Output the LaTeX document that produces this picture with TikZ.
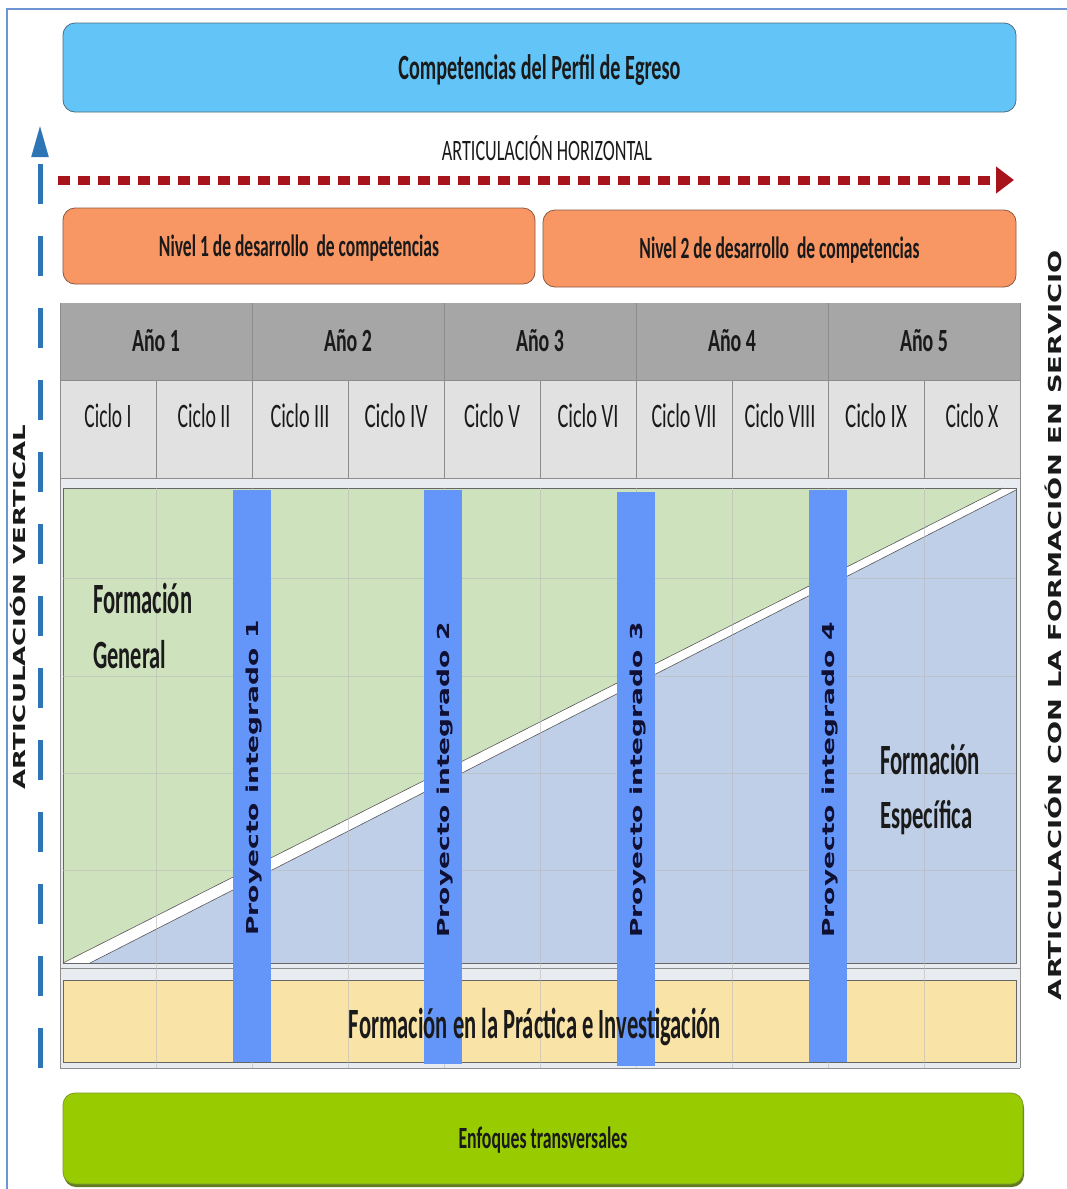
\documentclass[tikz,border=0pt]{standalone}
\usepackage{fontspec}
\setmainfont{Carlito}
\newfontfamily\vsans{DejaVu Sans}
\usepackage{graphicx}
\usetikzlibrary{arrows.meta}
\newcommand\fitt[3]{\resizebox{#1}{#2}{\raisebox{0pt}[\fontcharht\font`H][0pt]{#3}}}
\definecolor{frameblue}{HTML}{6D95D3}
\definecolor{topblue}{HTML}{63C5F7}
\definecolor{topborder}{HTML}{4F6D80}
\definecolor{orangefill}{HTML}{F89664}
\definecolor{orangeborder}{HTML}{8A5A40}
\definecolor{hdrgray}{HTML}{A6A6A6}
\definecolor{cycgray}{HTML}{E1E1E1}
\definecolor{bggray}{HTML}{E8ECF1}
\definecolor{gridgray}{HTML}{8C8C8C}
\definecolor{greenfill}{HTML}{CFE2BE}
\definecolor{bluefill}{HTML}{BFCFE8}
\definecolor{barblue}{HTML}{6495F9}
\definecolor{bandyellow}{HTML}{F9E3A7}
\definecolor{enfgreen}{HTML}{99CC00}
\definecolor{enfborder}{HTML}{7B9A2C}
\definecolor{arrowblue}{HTML}{2E75B6}
\definecolor{arrowred}{HTML}{A8141C}
\definecolor{txt}{HTML}{1A1A1A}
\definecolor{navytxt}{HTML}{101032}
\begin{document}
\begin{tikzpicture}[x=1pt,y=-1pt,
  rbox/.style={rounded corners=12pt, line width=0.8pt, inner sep=0pt, text=txt},
  lbl/.style={inner sep=0pt, text=txt},
  celltxt/.style={inner sep=0pt, text=txt},
  bar/.style={fill=barblue, draw=none, inner sep=0pt, minimum width=38pt},
  ptxt/.style={inner sep=0pt, text=navytxt, font=\vsans\bfseries, rotate=90},
  sidetxt/.style={inner sep=0pt, text=txt, font=\vsans\bfseries, rotate=90},
  grid/.style={draw=gridgray, line width=0.6pt},
  faint/.style={draw=gridgray!60, line width=0.5pt, opacity=0.6}]
\useasboundingbox (0,0) rectangle (1067,1189);
\fill[white] (0,0) rectangle (1067,1189);
% outer frame
\draw[frameblue, line width=1.4pt] (7,1189) -- (7,9) -- (1067,9);

% top box
\node[rbox, draw=topborder, fill=topblue, minimum width=953pt, minimum height=89pt, font=\bfseries] (comp) at (539.5,67.5)
  {\fitt{282pt}{23pt}{Competencias del Perfil de Egreso}};

% horizontal articulation
\node[lbl] (ah) at (547,151) {\fitt{210pt}{19pt}{ARTICULACIÓN HORIZONTAL}};
\coordinate (hstart) at (58,180);
\coordinate (hend) at (1014,180);
\draw[arrowred, line width=9pt, dash pattern=on 12pt off 8pt, -{Triangle[length=18pt,width=26pt]}] (hstart) -- (hend);

% vertical articulation arrow
\coordinate (vbot) at (40,1068);
\coordinate (vtop) at (40,125);
\draw[arrowblue, line width=5pt, dash pattern=on 40pt off 32pt, -{Triangle[length=32pt,width=16pt]}] (vbot) -- (vtop);
\node[sidetxt] (av) at (19,607) {\fitt{365pt}{12pt}{ARTICULACIÓN VERTICAL}};

% right side text
\node[sidetxt] (afs) at (1055,625) {\fitt{750pt}{13pt}{ARTICULACIÓN CON LA FORMACIÓN EN SERVICIO}};

% nivel boxes
\node[rbox, draw=orangeborder, fill=orangefill, minimum width=472pt, minimum height=76pt, font=\bfseries] (niv1) at (299,246)
  {\fitt{280pt}{20pt}{Nivel 1 de desarrollo\ \ de competencias}};
\node[rbox, draw=orangeborder, fill=orangefill, minimum width=473pt, minimum height=77pt, font=\bfseries] (niv2) at (779.5,248.5)
  {\fitt{280pt}{20pt}{Nivel 2 de desarrollo\ \ de competencias}};

% table backgrounds
\fill[hdrgray] (60,303) rectangle (1020,380);
\fill[cycgray] (60,380) rectangle (1020,478);
\fill[bggray] (60,478) rectangle (1020,1068);
\draw[grid] (60,380) -- (1020,380);
\draw[grid] (60,478) -- (1020,478);
\foreach \x in {252,444,636,828} \draw[grid] (\x,303) -- (\x,478);
\foreach \x in {156,348,540,732,924} \draw[grid] (\x,380) -- (\x,478);
\draw[grid] (60,303) -- (60,1068);
\draw[grid] (1020,303) -- (1020,1068);

% year labels
\foreach \i/\x in {1/156,2/348,3/540,4/732,5/924}
  \node[celltxt, font=\bfseries] (anio\i) at (\x,340.5) {\fitt{48pt}{21pt}{Año \i}};
% cycle labels
\node[celltxt] (c1) at (108,416) {\fitt{47pt}{22pt}{Ciclo I}};
\node[celltxt] (c2) at (204,416) {\fitt{53pt}{22pt}{Ciclo II}};
\node[celltxt] (c3) at (300,416) {\fitt{59pt}{22pt}{Ciclo III}};
\node[celltxt] (c4) at (396,416) {\fitt{63pt}{22pt}{Ciclo IV}};
\node[celltxt] (c5) at (492,416) {\fitt{56pt}{22pt}{Ciclo V}};
\node[celltxt] (c6) at (588,416) {\fitt{61pt}{22pt}{Ciclo VI}};
\node[celltxt] (c7) at (684,416) {\fitt{65pt}{22pt}{Ciclo VII}};
\node[celltxt] (c8) at (780,416) {\fitt{71pt}{22pt}{Ciclo VIII}};
\node[celltxt] (c9) at (876,416) {\fitt{62pt}{22pt}{Ciclo IX}};
\node[celltxt] (c10) at (972,416) {\fitt{53pt}{22pt}{Ciclo X}};

% main region
\fill[white] (63,488) rectangle (1016,963);
\fill[greenfill] (63,488) -- (1003,488) -- (63,963) -- cycle;
\fill[bluefill] (1016,490) -- (1016,963) -- (90,963) -- cycle;
\draw[gray!70!black, line width=0.6pt] (1003,488) -- (63,963);
\draw[gray!70!black, line width=0.6pt] (1016,490) -- (90,963);
\draw[gray!80!black, line width=0.7pt] (63,488) rectangle (1016,963);

% band
\fill[bandyellow] (63,980) rectangle (1016,1062);
\draw[gray!80!black, line width=0.7pt] (63,980) rectangle (1016,1062);
\draw[grid] (60,968) -- (1020,968);
\draw[grid] (60,1068) -- (1020,1068);

% faint grid
\foreach \x in {156,252,348,444,540,636,732,828,924} \draw[faint] (\x,488) -- (\x,1068);
\foreach \y in {578,676,773,870} \draw[faint] (63,\y) -- (1016,\y);

% labels in region
\node[lbl, anchor=west] (fg1) at (93,599) {\bfseries\fitt{99pt}{28pt}{Formación}};
\node[lbl, anchor=west] (fg2) at (93,655) {\bfseries\fitt{73pt}{26pt}{General}};
\node[lbl, anchor=west] (fe1) at (880,760) {\bfseries\fitt{100pt}{28pt}{Formación}};
\node[lbl, anchor=west] (fe2) at (880,815) {\bfseries\fitt{92pt}{26pt}{Específica}};

% project bars
\node[bar, minimum height=572pt] (bar1) at (252,776) {};
\node[bar, minimum height=574pt] (bar2) at (443,777) {};
\node[bar, minimum height=574pt] (bar3) at (636,779) {};
\node[bar, minimum height=572pt] (bar4) at (828,776) {};
\node[ptxt] (pt1) at (bar1.center |- 0,778) {\fitt{315pt}{12pt}{Proyecto integrado 1}};
\node[ptxt] (pt2) at (bar2.center |- 0,780) {\fitt{315pt}{12pt}{Proyecto integrado 2}};
\node[ptxt] (pt3) at (bar3.center |- 0,780) {\fitt{315pt}{12pt}{Proyecto integrado 3}};
\node[ptxt] (pt4) at (bar4.center |- 0,780) {\fitt{315pt}{12pt}{Proyecto integrado 4}};

% band text
\node[lbl] (fpi) at (535,1024) {\bfseries\fitt{372pt}{28pt}{Formación en la Práctica e Investigación}};

% enfoques box
\fill[enfborder!80!black, rounded corners=12pt] (64,1096) rectangle (1024,1187);
\node[rbox, draw=enfborder, fill=enfgreen, minimum width=960pt, minimum height=91pt, font=\bfseries] (enf) at (543,1138.5)
  {\fitt{169pt}{20pt}{Enfoques transversales}};
\end{tikzpicture}
\end{document}
